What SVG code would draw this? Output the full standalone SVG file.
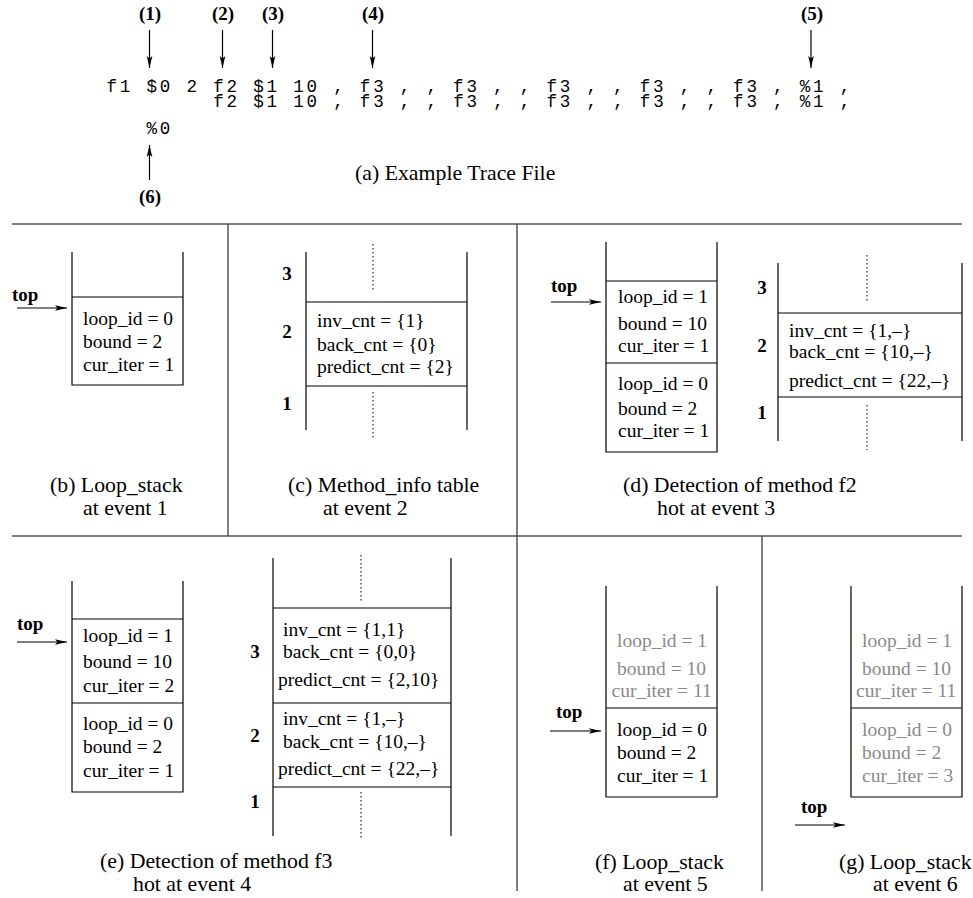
<svg xmlns="http://www.w3.org/2000/svg" width="973" height="898" viewBox="0 0 973 898">
<defs>
<marker id="ah" viewBox="0 0 12 8" refX="12" refY="4" markerWidth="12" markerHeight="8" orient="auto" markerUnits="userSpaceOnUse"><path d="M0,1.2 L12,4 L0,6.8 L2.5,4 z" fill="#000"/></marker>
</defs>
<style>
text{font-family:"Liberation Serif","Times New Roman",serif;fill:#000}
.t{font-size:19.5px}
.g{fill:#8a8a8a}
.cap{font-size:21.8px}
.b{font-weight:bold;font-size:19px}
.n{font-weight:bold;font-size:19px;text-anchor:middle}
.mono{font-family:"Liberation Mono","Courier New",monospace;font-size:17.5px;letter-spacing:2.83px}
.ln{stroke:#000;stroke-width:1.2;fill:none}
.sep{stroke:#555;stroke-width:1.5;fill:none}
.dot{stroke:#000;stroke-width:1;stroke-dasharray:1.5 2.5}
.arr{stroke:#000;stroke-width:1.2;marker-end:url(#ah)}
</style>
<rect width="973" height="898" fill="#fff"/>

<g id="trace">
<text class="mono" x="106.5" y="91.5">f1 $0 2 f2 $1 10 , f3 , , f3 , , f3 , , f3 , , f3 , %1 ,</text>
<text class="mono" x="213.2" y="106.5">f2 $1 10 , f3 , , f3 , , f3 , , f3 , , f3 , %1 ,</text>
<text class="mono" x="146.5" y="133.5">%0</text>
<text class="n" x="150" y="20">(1)</text>
<text class="n" x="223" y="20">(2)</text>
<text class="n" x="273" y="20">(3)</text>
<text class="n" x="373" y="20">(4)</text>
<text class="n" x="812" y="20">(5)</text>
<text class="n" x="150" y="203">(6)</text>
<text class="cap" x="355" y="180">(a) Example Trace File</text>
</g>

<g id="connectors">
<line class="arr" x1="149.5" y1="30" x2="149.5" y2="68"/>
<line class="arr" x1="222.5" y1="30" x2="222.5" y2="68"/>
<line class="arr" x1="272.5" y1="30" x2="272.5" y2="68"/>
<line class="arr" x1="372.5" y1="30" x2="372.5" y2="68"/>
<line class="arr" x1="811" y1="30" x2="811" y2="68"/>
<line class="arr" x1="149.5" y1="180" x2="149.5" y2="145"/>
<line class="arr" x1="17" y1="308" x2="67" y2="308"/>
<line class="arr" x1="551" y1="302" x2="601" y2="302"/>
<line class="arr" x1="17" y1="642" x2="67" y2="642"/>
<line class="arr" x1="550" y1="731" x2="601" y2="731"/>
<line class="arr" x1="795" y1="825" x2="845" y2="825"/>
</g>

<g id="separators">
<path class="sep" d="M12,224 H962 M12,536 H962 M228,224 V536 M517,224 V891 M762,536 V891"/>
</g>

<g id="panel-b">
<path class="ln" d="M72,252 V385 H183 V252 M72,297 H183"/>
<text class="t" x="83" y="325">loop_id = 0</text>
<text class="t" x="83" y="348">bound = 2</text>
<text class="t" x="83" y="371">cur_iter = 1</text>
<text class="b" x="12" y="301">top</text>
<text class="cap" x="50" y="492">(b) Loop_stack</text>
<text class="cap" x="83" y="515">at event 1</text>
</g>

<g id="panel-c">
<path class="ln" d="M306,252 V430 M467,252 V430 M306,302 H467 M306,386 H467"/>
<path class="dot" d="M373,244 V290 M373,392 V438"/>
<text class="n" x="287" y="280">3</text>
<text class="n" x="287" y="338">2</text>
<text class="n" x="287" y="410">1</text>
<text class="t" x="317" y="327">inv_cnt = {1}</text>
<text class="t" x="317" y="351">back_cnt = {0}</text>
<text class="t" x="317" y="373">predict_cnt = {2}</text>
<text class="cap" x="288" y="492">(c) Method_info table</text>
<text class="cap" x="323" y="515">at event 2</text>
</g>

<g id="panel-d">
<path class="ln" d="M606,242 V452 H717 V242 M606,281 H717 M606,363 H717"/>
<text class="t" x="618" y="303">loop_id = 1</text>
<text class="t" x="618" y="330">bound = 10</text>
<text class="t" x="618" y="352">cur_iter = 1</text>
<text class="t" x="618" y="390">loop_id = 0</text>
<text class="t" x="618" y="415">bound = 2</text>
<text class="t" x="618" y="437">cur_iter = 1</text>
<text class="b" x="551" y="292">top</text>
<path class="ln" d="M778,263 V441 M962,263 V441 M778,313 H962 M778,397 H962"/>
<path class="dot" d="M867,255 V302 M867,405 V450"/>
<text class="n" x="762" y="294">3</text>
<text class="n" x="762" y="352">2</text>
<text class="n" x="762" y="419">1</text>
<text class="t" x="789" y="337">inv_cnt = {1,–}</text>
<text class="t" x="789" y="358">back_cnt = {10,–}</text>
<text class="t" x="789" y="387">predict_cnt = {22,–}</text>
<text class="cap" x="623" y="492">(d) Detection of method f2</text>
<text class="cap" x="657" y="515">hot at event 3</text>
</g>

<g id="panel-e">
<path class="ln" d="M72,581 V792 H183 V581 M72,619 H183 M72,703 H183"/>
<text class="t" x="83" y="642">loop_id = 1</text>
<text class="t" x="83" y="668">bound = 10</text>
<text class="t" x="83" y="692">cur_iter = 2</text>
<text class="t" x="83" y="730">loop_id = 0</text>
<text class="t" x="83" y="753">bound = 2</text>
<text class="t" x="83" y="777">cur_iter = 1</text>
<text class="b" x="17" y="630">top</text>
<path class="ln" d="M273,558 V836 M451,558 V836 M273,608 H451 M273,703 H451 M273,787 H451"/>
<path class="dot" d="M361,555 V602 M361,792 V838"/>
<text class="n" x="255" y="658">3</text>
<text class="n" x="255" y="742">2</text>
<text class="n" x="255" y="808">1</text>
<text class="t" x="283" y="636">inv_cnt = {1,1}</text>
<text class="t" x="283" y="658">back_cnt = {0,0}</text>
<text class="t" x="278" y="686">predict_cnt = {2,10}</text>
<text class="t" x="283" y="725">inv_cnt = {1,–}</text>
<text class="t" x="283" y="748">back_cnt = {10,–}</text>
<text class="t" x="278" y="775">predict_cnt = {22,–}</text>
<text class="cap" x="100" y="868">(e) Detection of method f3</text>
<text class="cap" x="133" y="891">hot at event 4</text>
</g>

<g id="panel-f">
<path class="ln" d="M606,586 V797 H717 V586 M606,708 H717"/>
<text class="t g" x="617" y="647">loop_id = 1</text>
<text class="t g" x="617" y="675">bound = 10</text>
<text class="t g" x="611.5" y="697">cur_iter = 11</text>
<text class="t" x="617" y="736">loop_id = 0</text>
<text class="t" x="617" y="759">bound = 2</text>
<text class="t" x="617" y="782">cur_iter = 1</text>
<text class="b" x="556" y="718">top</text>
<text class="cap" x="595" y="869">(f) Loop_stack</text>
<text class="cap" x="623" y="891">at event 5</text>
</g>

<g id="panel-g">
<path class="ln" d="M851,586 V797 H962 V586 M851,708 H962"/>
<text class="t g" x="862" y="647">loop_id = 1</text>
<text class="t g" x="862" y="675">bound = 10</text>
<text class="t g" x="856" y="697">cur_iter = 11</text>
<text class="t g" x="862" y="736">loop_id = 0</text>
<text class="t g" x="862" y="759">bound = 2</text>
<text class="t g" x="862" y="782">cur_iter = 3</text>
<text class="b" x="801" y="813">top</text>
<text class="cap" x="839" y="869">(g) Loop_stack</text>
<text class="cap" x="873" y="891">at event 6</text>
</g>
</svg>
